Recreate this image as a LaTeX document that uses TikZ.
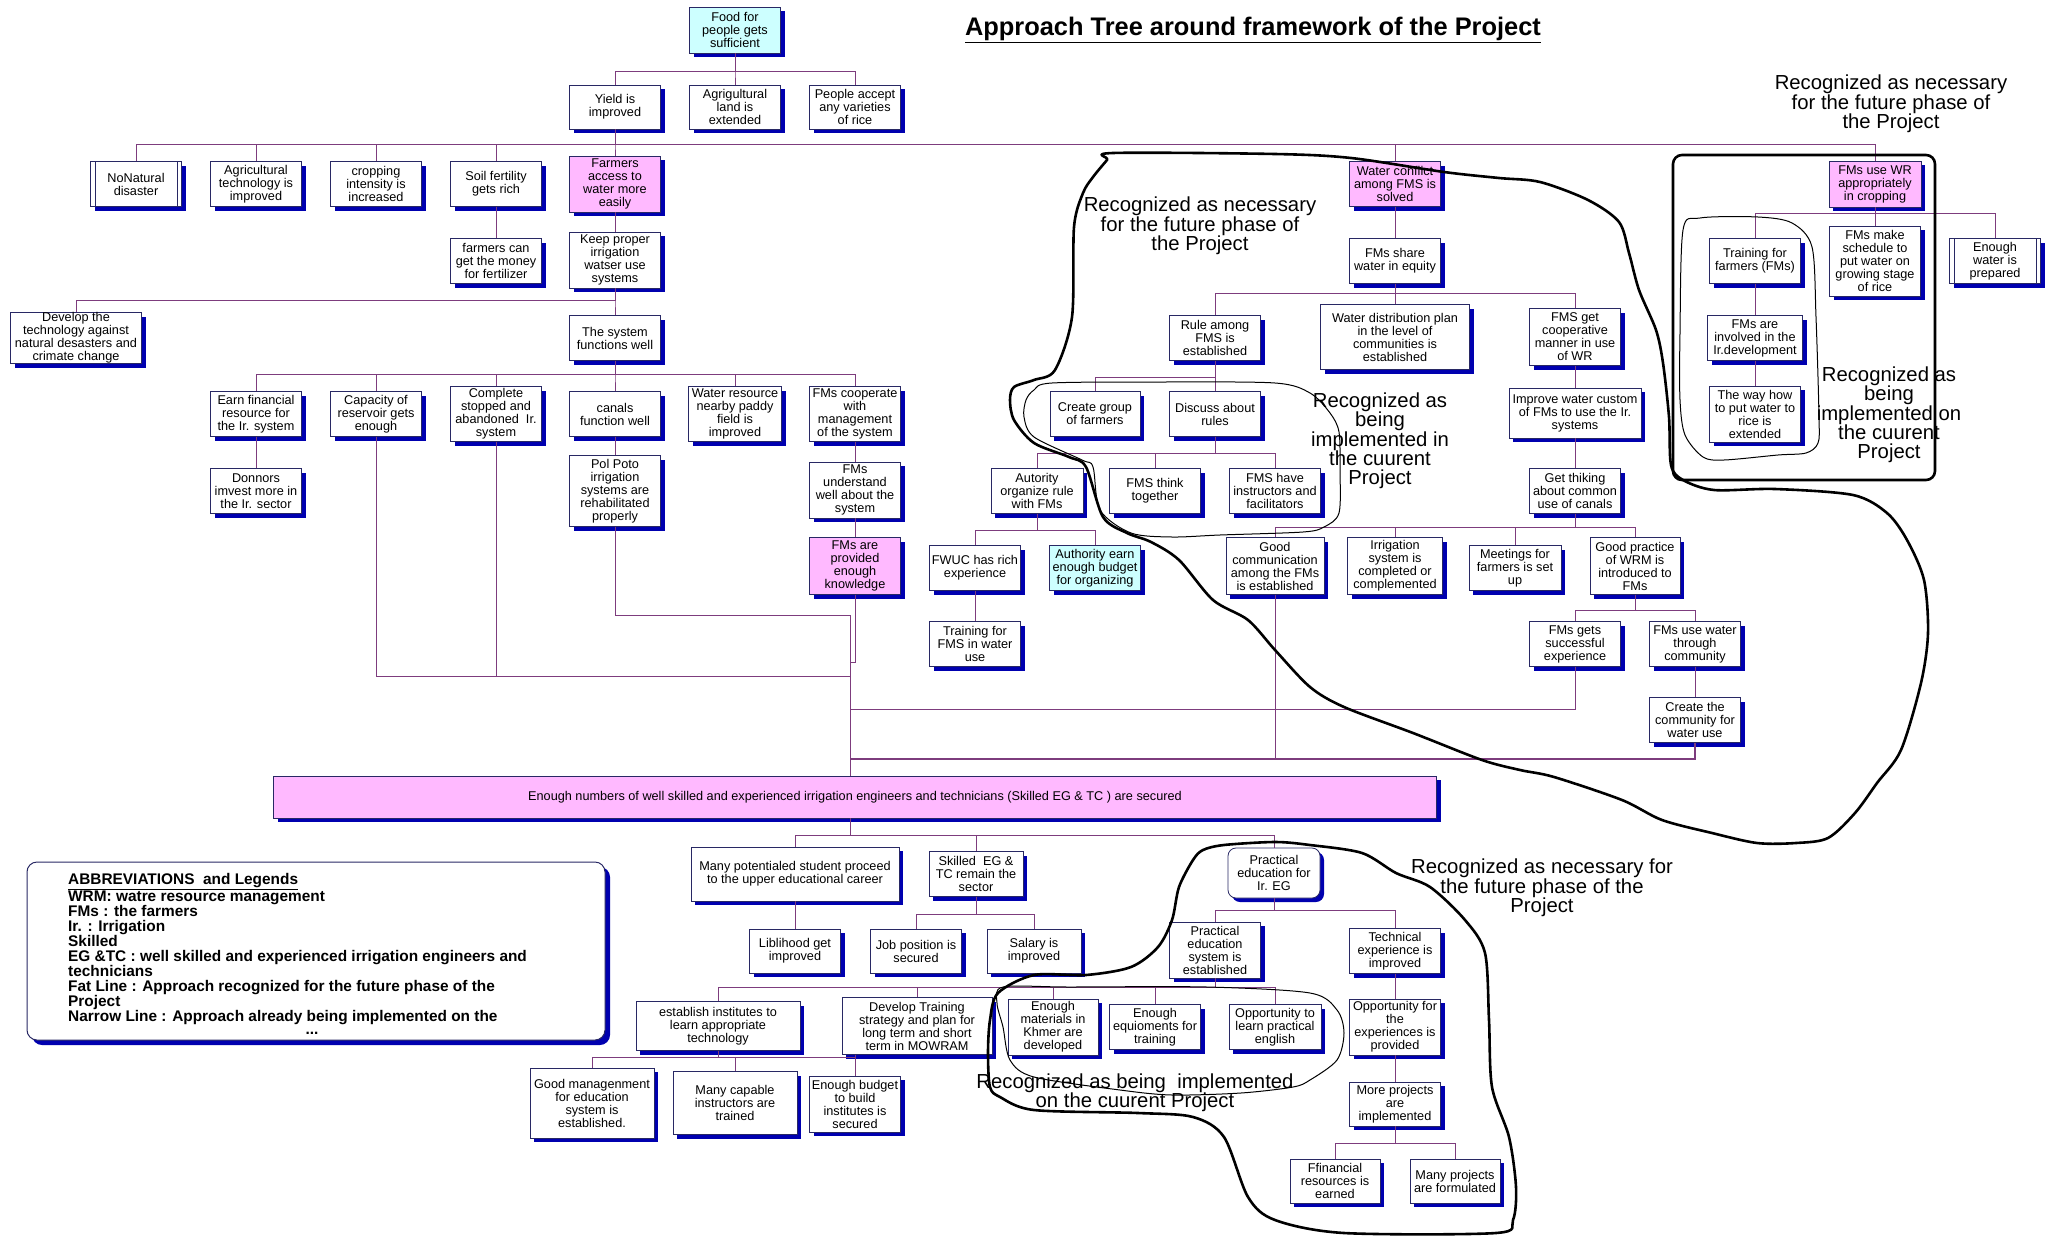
\documentclass[tikz,border=0pt]{standalone}
\usepackage{fontspec}
\setmainfont{Liberation Sans}
\usetikzlibrary{shadows,calc}
\definecolor{connpurple}{RGB}{125,60,125}
\definecolor{boxborder}{RGB}{40,40,100}
\definecolor{shadowblue}{RGB}{0,0,175}
\definecolor{pinkfill}{RGB}{255,185,255}
\definecolor{cyanfill}{RGB}{205,255,255}
\newcommand\boxtext{\fontsize{12.7}{13}\selectfont}
\newcommand\notetext{\fontsize{20.3}{19.3}\selectfont}
\newcommand\legendtext{\fontsize{15.4}{15}\selectfont\bfseries}
\newcommand\titletext{\fontsize{25.4}{28}\selectfont\bfseries}
% parent, y of the horizontal bar, list of children
\newcommand\treebranch[3]{\foreach \ch in {#3}{\draw[conn] (#1.south) -- (#1.south |- 0,#2) -| (\ch.north);}}
\tikzset{
  box/.style={draw=boxborder, line width=0.8pt, fill=white, align=center, inner sep=1pt,
    font=\boxtext, general shadow={fill=shadowblue, shadow xshift=4pt, shadow yshift=-4pt}},
  pinkbox/.style={box, fill=pinkfill},
  cyanbox/.style={box, fill=cyanfill},
  sz/.style 2 args={minimum width=#1pt, minimum height=#2pt},
  conn/.style={draw=connpurple, line width=1pt},
  boxline/.style={draw=boxborder, line width=0.8pt},
  fatcloud/.style={draw=black, line width=2.6pt, line join=round},
  thincloud/.style={draw=black, line width=1pt},
  note/.style={align=center, font=\notetext, inner sep=0pt},
}
\begin{document}
\begin{tikzpicture}[x=1pt,y=-1pt]
\fill[white] (0,0) rectangle (2053,1237);
\useasboundingbox (0,0) rectangle (2053,1237);

\node (title) at (1253,30) {\titletext\underline{Approach Tree around framework of the Project}};

% ---------- upper tree ----------
\node[cyanbox, sz={91}{46}] (food) at (735,30) {Food for\\people gets\\sufficient};
\node[box, sz={91}{44}] (yield) at (615,107) {Yield is\\improved};
\node[box, sz={91}{44}] (agland) at (735,107) {Agrigultural\\land is\\extended};
\node[box, sz={91}{44}] (accept) at (855,107) {People accept\\any varieties\\of rice};

\node[box, sz={91}{45}] (nonat) at (136,184) {NoNatural\\disaster};
\node[box, sz={91}{45}] (agtech) at (256,184) {Agricultural\\technology is\\improved};
\node[box, sz={91}{45}] (crop) at (376,184) {cropping\\intensity is\\increased};
\node[box, sz={91}{45}] (soil) at (496,184) {Soil fertility\\gets rich};
\node[pinkbox, sz={91}{56}] (access) at (615,184) {Farmers\\access to\\water more\\easily};
\node[pinkbox, sz={91}{45}] (conflict) at (1395,184) {Water conflict\\among FMS is\\solved};
\node[pinkbox, sz={92}{46}] (usewr) at (1875,184) {FMs use WR\\appropriately\\in cropping};

\node[box, sz={91}{45}] (money) at (496,261) {farmers can\\get the money\\for fertilizer};
\node[box, sz={91}{56}] (keep) at (615,260) {Keep proper\\irrigation\\watser use\\systems};
\node[box, sz={131}{51}, inner sep=0pt] (devtech) at (76,338) {Develop the\\technology against\\natural desasters and\\crimate change};
\node[box, sz={91}{45}] (sysfunc) at (615,338) {The system\\functions well};

\node[box, sz={91}{45}] (earn) at (256,414) {Earn financial\\resource for\\the Ir. system};
\node[box, sz={91}{45}] (capacity) at (376,414) {Capacity of\\reservoir gets\\enough};
\node[box, sz={91}{55}] (complete) at (496,414) {Complete\\stopped and\\abandoned\ \ Ir.\\system};
\node[box, sz={91}{45}] (canals) at (615,414) {canals\\function well};
\node[box, sz={93}{55}] (wres) at (735,414) {Water resource\\nearby paddy\\field is\\improved};
\node[box, sz={91}{55}] (coop) at (855,414) {FMs cooperate\\with\\management\\of the system};

\node[box, sz={91}{45}] (donors) at (256,491) {Donnors\\imvest more in\\the Ir. sector};
\node[box, sz={91}{71}] (polpot) at (615,491) {Pol Poto\\irrigation\\systems are\\rehabilitated\\properly};
\node[box, sz={91}{56}] (understand) at (855,490) {FMs\\understand\\well about the\\system};
\node[pinkbox, sz={91}{57}] (provided) at (855,566) {FMs are\\provided\\enough\\knowledge};

% ---------- water sharing branch ----------
\node[box, sz={91}{45}] (share) at (1395,261) {FMs share\\water in equity};
\node[box, sz={91}{45}] (rule) at (1215,338) {Rule among\\FMS is\\established};
\node[box, sz={149}{65}] (wdist) at (1395,337) {Water distribution plan\\in the level of\\communities is\\established};
\node[box, sz={91}{57}] (coopmanner) at (1575,337) {FMS get\\cooperative\\manner in use\\of WR};
\node[box, sz={90}{45}] (group) at (1095,414) {Create group\\of farmers};
\node[box, sz={91}{45}] (discuss) at (1215,414) {Discuss about\\rules};
\node[box, sz={132}{50}] (improve) at (1575,413) {Improve water custom\\of FMs to use the Ir.\\systems};
\node[box, sz={92}{45}] (autority) at (1037,491) {Autority\\organize rule\\with FMs};
\node[box, sz={91}{45}] (think) at (1155,491) {FMS think\\together};
\node[box, sz={91}{45}] (instruct) at (1275,491) {FMS have\\instructors and\\facilitators};
\node[box, sz={91}{45}] (thiking) at (1575,491) {Get thiking\\about common\\use of canals};
\node[box, sz={91}{45}] (fwuc) at (975,568) {FWUC has rich\\experience};
\node[cyanbox, sz={91}{45}] (budget) at (1095,568) {Authority earn\\enough budget\\for organizing};
\node[box, sz={98}{57}] (goodcomm) at (1275,566) {Good\\communication\\among the FMs\\is established};
\node[box, sz={95}{57}] (irrsys) at (1395,566) {Irrigation\\system is\\completed or\\complemented};
\node[box, sz={92}{45}] (meetings) at (1515,568) {Meetings for\\farmers is set\\up};
\node[box, sz={90}{57}] (practice) at (1635,566) {Good practice\\of WRM is\\introduced to\\FMs};
\node[box, sz={91}{45}] (trainfms) at (975,644) {Training for\\FMS in water\\use};
\node[box, sz={91}{45}] (success) at (1575,644) {FMs gets\\successful\\experience};
\node[box, sz={91}{45}] (community) at (1695,644) {FMs use water\\through\\community};
\node[box, sz={91}{45}] (createcomm) at (1695,720) {Create the\\community for\\water use};

% ---------- water use in cropping branch ----------
\node[box, sz={91}{45}] (trainfarm) at (1755,261) {Training for\\farmers (FMs)};
\node[box, sz={91}{70}] (schedule) at (1875,261) {FMs make\\schedule to\\put water on\\growing stage\\of rice};
\node[box, sz={91}{45}] (enoughw) at (1995,261) {Enough\\water is\\prepared};
\node[box, sz={95}{45}] (involved) at (1755,338) {FMs are\\involved in the\\Ir.development};
\node[box, sz={91}{56}] (wayhow) at (1755,414) {The way how\\to put water to\\rice is\\extended};

% double side bars
\foreach \n in {nonat,enoughw}{
  \draw[boxline] ([xshift=5pt]\n.north west) -- ([xshift=5pt]\n.south west);
  \draw[boxline] ([xshift=-5pt]\n.north east) -- ([xshift=-5pt]\n.south east);
}

% ---------- central goal ----------
\node[pinkbox, sz={1163}{42}] (big) at (855,797) {Enough numbers of well skilled and experienced irrigation engineers and technicians (Skilled EG \& TC ) are secured};

% ---------- lower tree ----------
\node[box, sz={208}{54}] (potential) at (795,874) {Many potentialed student proceed\\to the upper educational career};
\node[box, sz={94}{45}] (remain) at (976,874) {Skilled\ \ EG \&\\TC remain the\\sector};
\node[box, sz={92}{50}, rounded corners=8pt] (pract) at (1274,873) {Practical\\education for\\Ir. EG};
\node[box, sz={91}{44}] (liblihood) at (795,951) {Liblihood get\\improved};
\node[box, sz={91}{44}] (job) at (916,951) {Job position is\\secured};
\node[box, sz={94}{44}] (salary) at (1034,951) {Salary is\\improved};
\node[box, sz={91}{56}] (practsys) at (1215,950) {Practical\\education\\system is\\established};
\node[box, sz={91}{45}] (techexp) at (1395,951) {Technical\\experience is\\improved};
\node[box, sz={164}{49}] (institutes) at (718,1026) {establish institutes to\\learn appropriate\\technology};
\node[box, sz={150}{57}] (training) at (917,1026) {Develop Training\\strategy and plan for\\long term and short\\term in MOWRAM};
\node[box, sz={90}{56}] (materials) at (1053,1027) {Enough\\materials in\\Khmer are\\developed};
\node[box, sz={91}{45}] (equip) at (1155,1027) {Enough\\equioments for\\training};
\node[box, sz={92}{45}] (english) at (1275,1027) {Opportunity to\\learn practical\\english};
\node[box, sz={91}{56}] (oppexp) at (1395,1027) {Opportunity for\\the\\experiences is\\provided};
\node[box, sz={124}{70}] (goodmgmt) at (592,1103) {Good managenment\\for education\\system is\\established.};
\node[box, sz={124}{63}] (capable) at (735,1103) {Many capable\\instructors are\\trained};
\node[box, sz={91}{56}] (enbudget) at (855,1104) {Enough budget\\to build\\institutes is\\secured};
\node[box, sz={91}{44}] (moreproj) at (1395,1104) {More projects\\are\\implemented};
\node[box, sz={90}{44}] (ffin) at (1335,1181) {Ffinancial\\resources is\\earned};
\node[box, sz={90}{44}] (formulated) at (1455,1181) {Many projects\\are formulated};

% ---------- connectors ----------
\treebranch{food}{71}{yield,agland,accept}
\treebranch{yield}{144}{nonat,agtech,crop,soil,access,conflict,usewr}
\draw[conn] (soil.south) -- (money.north);
\draw[conn] (access.south) -- (keep.north);
\treebranch{keep}{300}{devtech,sysfunc}
\treebranch{sysfunc}{374}{earn,capacity,complete,canals,wres,coop}
\draw[conn] (earn.south) -- (donors.north);
\draw[conn] (canals.south) -- (polpot.north);
\draw[conn] (coop.south) -- (understand.north);
\draw[conn] (understand.south) -- (provided.north);

\draw[conn] (conflict.south) -- (share.north);
\treebranch{share}{293}{rule,wdist,coopmanner}
\treebranch{rule}{377}{group,discuss}
\treebranch{discuss}{453}{autority,think,instruct}
\treebranch{autority}{530}{fwuc,budget}
\draw[conn] (fwuc.south) -- (trainfms.north);
\draw[conn] (coopmanner.south) -- (improve.north);
\draw[conn] (improve.south) -- (thiking.north);
\treebranch{thiking}{527}{goodcomm,irrsys,meetings,practice}
\treebranch{practice}{610}{success,community}
\draw[conn] (community.south) -- (createcomm.north);

\treebranch{usewr}{213}{trainfarm,schedule,enoughw}
\draw[conn] (trainfarm.south) -- (involved.north);
\draw[conn] (involved.south) -- (wayhow.north);

% lines gathering into the central goal
\coordinate (gx) at (850,615);
\draw[conn] (polpot.south) |- (gx) -- (big.north -| gx);
\draw[conn] (capacity.south) |- (850,676);
\draw[conn] (complete.south) -- (complete.south |- 0,676);
\draw[conn] (provided.south) |- (850,662);
\draw[conn] (success.south) |- (850,709);
\draw[conn, line width=1.8pt] (createcomm.south) |- (850,759);
\draw[conn] (goodcomm.south) -- (goodcomm.south |- 0,759);

\coordinate (bx) at (850,835);
\draw[conn] (big.south -| bx) -- (bx);
\foreach \ch in {potential,remain,pract}{\draw[conn] (bx) -| (\ch.north);}
\draw[conn] (potential.south) -- (liblihood.north);
\treebranch{remain}{914}{job,salary}
\treebranch{pract}{910}{practsys,techexp}
\treebranch{practsys}{987}{institutes,training,materials,equip,english}
\treebranch{institutes}{1057}{goodmgmt,capable,enbudget}
\draw[conn] (training.south -| enbudget.north) -- (enbudget.north);
\draw[conn] (techexp.south) -- (oppexp.north);
\draw[conn] (oppexp.south) -- (moreproj.north);
\treebranch{moreproj}{1143}{ffin,formulated}

% ---------- legend ----------
\node[draw=boxborder, line width=1pt, rounded corners=10pt, fill=white, sz={578}{178},
  general shadow={fill=shadowblue, shadow xshift=5pt, shadow yshift=-5pt}] (legend) at (316,951) {};
\node[anchor=north west, align=left, inner sep=0pt, font=\legendtext] (legtext) at (68,873) {%
\underline{ABBREVIATIONS\ \ and Legends}\\
WRM: watre resource management\\
FMs : the farmers\\
Ir. : Irrigation\\
Skilled\\
EG \&TC : well skilled and experienced irrigation engineers and\\
technicians\\
Fat Line : Approach recognized for the future phase of the\\
Project\\
Narrow Line : Approach already being implemented on the};
\node[font=\legendtext, inner sep=0pt] (legdots) at (312,1033) {...};

% ---------- annotations ----------
\node[note] (ann1) at (1200,226) {Recognized as necessary\\for the future phase of\\the Project};
\node[note] (ann2) at (1891,104) {Recognized as necessary\\for the future phase of\\the Project};
\node[note] (ann3) at (1380,441) {Recognized as\\being\\implemented in\\the cuurent\\Project};
\node[note] (ann4) at (1889,415) {Recognized as\\being\\implemented on\\the cuurent\\Project};
\node[note] (ann5) at (1542,888) {Recognized as necessary for\\the future phase of the\\Project};
\node[note] (ann6) at (1135,1093) {Recognized as being\ \ implemented\\on the cuurent Project};

% ---------- hand-drawn outlines ----------
% future phase, water conflict area
\draw[fatcloud] plot[smooth cycle, tension=0.5] coordinates {
 (1113,153) (1275,154) (1351,158) (1444,172) (1499,178) (1540,182) (1588,200) (1619,222)
 (1629,253) (1639,290) (1656,330) (1663,363) (1669,417) (1671,465) (1683,480) (1714,490)
 (1775,489) (1853,495) (1887,513) (1907,540) (1924,580) (1928,633) (1921,683) (1901,750)
 (1877,783) (1855,813) (1828,838) (1796,843) (1757,843) (1712,833) (1662,820) (1622,800)
 (1554,777) (1520,770) (1482,760) (1413,733) (1344,707) (1310,687) (1275,650) (1248,620)
 (1213,600) (1179,560) (1151,542) (1127,533) (1103,517) (1086,467) (1069,457) (1034,443)
 (1014,420) (1010,400) (1014,387) (1034,380) (1055,370) (1072,317) (1074,227) (1083,193)
 (1093,177) (1107,160)};
% current project, rule making area
\draw[thincloud] plot[smooth cycle, tension=0.5] coordinates {
 (1034,390) (1052,383) (1160,382) (1275,383) (1310,393) (1330,413) (1339,432) (1340,470)
 (1339,513) (1324,527) (1303,532) (1220,535) (1172,537) (1131,533) (1100,510) (1093,467)
 (1082,460) (1034,437) (1024,417) (1026,400)};
% future phase, water use in cropping
\draw[draw=black, line width=2.6pt, rounded corners=9pt] (1673,155) rectangle (1935,480);
% current project, farmer training
\draw[thincloud] plot[smooth cycle, tension=0.5] coordinates {
 (1683,230) (1700,218) (1758,217) (1792,223) (1812,247) (1816,317) (1819,417) (1818,443)
 (1806,453) (1778,455) (1724,460) (1703,457) (1685,435) (1680,400) (1680,333)};
% future phase, practical education
\draw[fatcloud] plot[smooth cycle, tension=0.5] coordinates {
 (1203,850) (1224,845) (1275,842) (1310,845) (1362,853) (1396,873) (1430,887) (1465,920)
 (1485,953) (1489,1020) (1492,1087) (1509,1137) (1516,1187) (1513,1220) (1496,1233)
 (1344,1233) (1275,1220) (1248,1197) (1224,1137) (1193,1117) (1138,1113) (1034,1110)
 (1000,1097) (990,1087) (988,1053) (990,1020) (998,993) (1034,975) (1086,975) (1131,967)
 (1158,947) (1172,920) (1179,887) (1193,860)};
% current project, training materials
\draw[thincloud] plot[smooth cycle, tension=0.5] coordinates {
 (1003,987) (1069,987) (1207,987) (1310,993) (1337,1010) (1344,1033) (1337,1060) (1310,1080)
 (1293,1087) (1241,1093) (1172,1095) (1120,1090) (1034,1077) (1010,1060) (1003,1027)
 (997,1003)};
\end{tikzpicture}
\end{document}
